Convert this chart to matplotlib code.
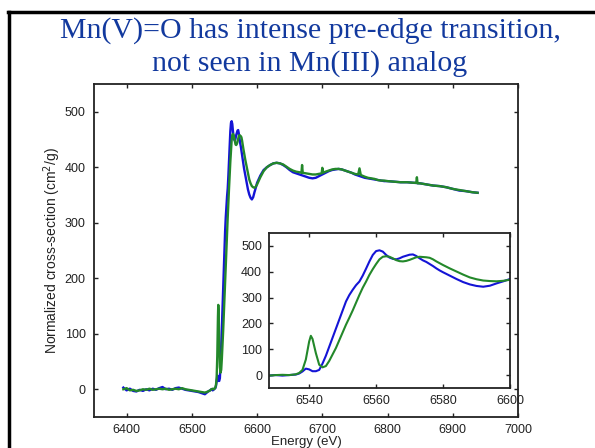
import matplotlib
matplotlib.use("Agg")
import matplotlib.pyplot as plt
from matplotlib.lines import Line2D

plt.rcParams['font.family'] = ['Liberation Sans', 'DejaVu Sans']

# Mn(III) analog (blue)
e_mn3 = [6395, 6400, 6405, 6410, 6415, 6420, 6425, 6430, 6435, 6440, 6445, 6450,
         6455, 6460, 6465, 6470, 6475, 6480, 6485, 6490, 6495, 6500, 6505, 6510,
         6515, 6520, 6522, 6525, 6528, 6530, 6532, 6534, 6536, 6537, 6538, 6539,
         6540, 6541, 6542, 6543, 6544, 6545, 6546, 6547, 6548, 6549, 6550, 6551,
         6552, 6553, 6554, 6555, 6556, 6557, 6558, 6559, 6560, 6561, 6562, 6563,
         6564, 6565, 6566, 6567, 6568, 6569, 6570, 6571, 6572, 6573, 6574, 6575,
         6576, 6577, 6578, 6579, 6580, 6582, 6584, 6586, 6588, 6590, 6592, 6594,
         6596, 6598, 6600, 6605, 6610, 6615, 6620, 6625, 6630, 6635, 6640, 6645,
         6650, 6655, 6660, 6665, 6670, 6675, 6680, 6685, 6690, 6695, 6700, 6705,
         6710, 6715, 6720, 6725, 6730, 6735, 6740, 6745, 6750, 6755, 6760, 6765,
         6770, 6775, 6780, 6785, 6790, 6795, 6800, 6810, 6820, 6830, 6840, 6850,
         6860, 6870, 6880, 6890, 6900, 6910, 6920, 6930, 6938]
mu_mn3 = [3, -2, 1, -3, -4, -1, -3, 0, -2, 1, -1, 2,
          4, 0, 1, -1, 2, 3, 1, -1, -2, -3, -4, -5,
          -7, -9, -7, -4, -2, 0, -2, 0, 2, 6, 14, 25,
          22, 15, 15, 20, 45, 75, 110, 145, 180, 215, 250, 285,
          310, 330, 348, 362, 385, 412, 440, 465, 480, 483, 478, 465,
          455, 450, 448, 452, 458, 462, 466, 467, 461, 452, 444, 438,
          430, 422, 413, 405, 398, 385, 372, 360, 351, 345, 342, 346,
          355, 363, 372, 385, 395, 400, 404, 407, 408, 407, 404, 400,
          395, 391, 389, 387, 385, 383, 381, 380, 381, 384, 387, 390,
          393, 395, 396, 397, 396, 394, 392, 390, 387, 385, 383, 381,
          380, 379, 378, 377, 376, 375, 375, 374, 373, 373, 372, 371,
          369, 367, 366, 364, 361, 358, 357, 355, 354]

# Mn(V)=O (green)
e_mn5 = [6395, 6400, 6405, 6410, 6415, 6420, 6425, 6430, 6435, 6440, 6445, 6450,
         6455, 6460, 6465, 6470, 6475, 6480, 6485, 6490, 6495, 6500, 6505, 6510,
         6515, 6520, 6525, 6528, 6530, 6532, 6534, 6536, 6537, 6538, 6539, 6540,
         6540.5, 6541, 6542, 6543, 6544, 6545, 6546, 6547, 6548, 6549, 6550, 6551,
         6552, 6553, 6554, 6555, 6556, 6557, 6558, 6559, 6560, 6561, 6562, 6563,
         6564, 6565, 6566, 6567, 6568, 6569, 6570, 6571, 6572, 6573, 6574, 6575,
         6576, 6577, 6578, 6579, 6580, 6582, 6584, 6586, 6588, 6590, 6592, 6594,
         6596, 6598, 6600, 6605, 6610, 6615, 6620, 6625, 6630, 6635, 6640, 6645,
         6650, 6655, 6660, 6665, 6668, 6669, 6670, 6675, 6680, 6685, 6690, 6695,
         6699, 6700, 6701, 6705, 6710, 6715, 6720, 6725, 6730, 6735, 6740, 6745,
         6750, 6755, 6757, 6759, 6765, 6770, 6775, 6780, 6785, 6790, 6795, 6800,
         6810, 6820, 6830, 6840, 6844, 6845, 6846, 6850, 6860, 6870, 6880, 6890,
         6900, 6910, 6920, 6930, 6938]
mu_mn5 = [0, 2, -2, -1, -3, -2, 0, -1, 1, -1, 0, 1,
          0, 1, -1, 0, 1, 0, 2, 0, -1, -2, -3, -4,
          -5, -6, -4, -2, 0, 1, 0, 3, 8, 20, 60, 130,
          152, 140, 85, 40, 30, 35, 55, 80, 105, 135, 165, 195,
          222, 250, 280, 310, 338, 362, 388, 410, 430, 448, 458, 460,
          458, 452, 445, 441, 440, 442, 446, 451, 456, 458, 457, 456,
          454, 448, 440, 433, 426, 413, 401, 389, 378, 371, 366, 364,
          363, 365, 369, 382, 393, 400, 404, 407, 408, 407, 405, 401,
          397, 394, 392, 391, 390, 404, 390, 389, 388, 387, 387, 388,
          389, 399, 390, 392, 394, 396, 397, 397, 396, 394, 392, 390,
          388, 387, 398, 386, 383, 381, 380, 379, 377, 376, 376, 375,
          374, 373, 373, 372, 372, 382, 371, 371, 369, 367, 366, 364,
          361, 359, 357, 355, 354]

main_xticks = [6400, 6500, 6600, 6700, 6800, 6900, 7000]
inset_xticks = [6540, 6560, 6580, 6600]
yticks = [0, 100, 200, 300, 400, 500]

blue = '#1414d6'
green = '#23882a'
ink = '#222222'

fig = plt.figure(figsize=(5.95, 4.48), dpi=100)
fig.patch.set_facecolor('white')

# slide frame
fig.add_artist(Line2D([9 / 595, 9 / 595], [0, 1 - 12 / 448], color='black', lw=2.5))
fig.add_artist(Line2D([8 / 595, 1], [1 - 12 / 448, 1 - 12 / 448], color='black', lw=2.5))

fig.text(310 / 595, 1 - 31 / 448, "Mn(V)=O has intense pre-edge transition,",
         family='Liberation Serif', fontsize=21.5, color='#12399e',
         ha='center', va='center')
fig.text(310 / 595, 1 - 64 / 448, "not seen in Mn(III) analog",
         family='Liberation Serif', fontsize=21.5, color='#12399e',
         ha='center', va='center')

ax = fig.add_axes([94 / 595, 31 / 448, 424 / 595, 333 / 448])
ax.plot(e_mn3, mu_mn3, color=blue, lw=1.7)
ax.plot(e_mn5, mu_mn5, color=green, lw=1.7)
ax.set_xlim(6350, 7000)
ax.set_ylim(-50, 550)
ax.set_xticks(main_xticks)
ax.set_yticks(yticks)
ax.tick_params(direction='in', top=True, right=True, length=3, width=1,
               labelsize=9, pad=5, color=ink, labelcolor=ink)
ax.tick_params(axis='y', pad=6)
ax.set_xlabel("Energy (eV)", fontsize=9.5, labelpad=0, color=ink)
ax.set_ylabel("Normalized cross-section (cm$^2$/g)", fontsize=10, labelpad=1,
              color=ink)
for s in ax.spines.values():
    s.set_linewidth(1.3)
    s.set_color(ink)

ins = fig.add_axes([269 / 595, 60 / 448, 241 / 595, 155 / 448])
ins.plot(e_mn3, mu_mn3, color=blue, lw=1.5)
ins.plot(e_mn5, mu_mn5, color=green, lw=1.5)
ins.set_xlim(6528, 6600)
ins.set_ylim(-50, 550)
ins.set_xticks(inset_xticks)
ins.set_yticks(yticks)
ins.tick_params(direction='in', top=True, right=True, length=3, width=1,
                labelsize=9, pad=5, color=ink, labelcolor=ink)
for s in ins.spines.values():
    s.set_linewidth(1.3)
    s.set_color(ink)

fig.savefig("out.png", dpi=100)
